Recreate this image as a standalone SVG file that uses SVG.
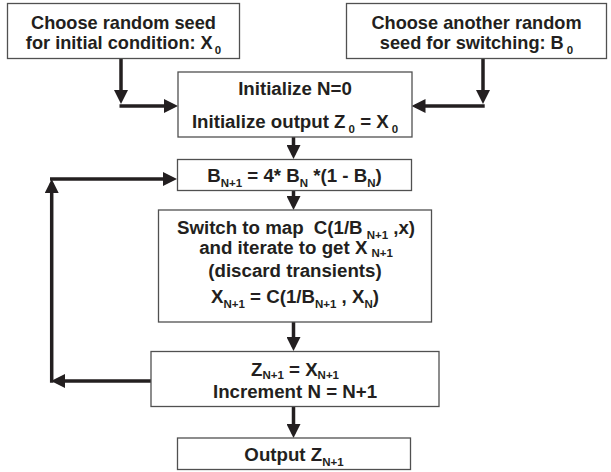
<svg xmlns="http://www.w3.org/2000/svg" width="611" height="472" viewBox="0 0 611 472">
<defs>
<style>
.box{fill:#fff;stroke:#505050;stroke-width:1.3}
.t{font-family:"Liberation Sans",Arial,sans-serif;font-weight:bold;font-size:18.7px;fill:#231f20;text-anchor:middle}
.top{font-size:18.2px}
.s{font-size:11.5px}
.c{fill:none;stroke:#231f20;stroke-width:3.5}
</style>
<marker id="ah" markerUnits="userSpaceOnUse" markerWidth="14" markerHeight="14" viewBox="0 0 14 14" refX="10" refY="7" orient="auto">
<path d="M0,0 L14,7 L0,14 z" fill="#231f20"/>
</marker>
</defs>
<rect width="611" height="472" fill="#fff"/>
<g id="connectors">
<path class="c" d="M121,58.5 V100" marker-end="url(#ah)"/>
<path class="c" d="M119.5,106 H174" marker-end="url(#ah)"/>
<path class="c" d="M483,58.5 V100" marker-end="url(#ah)"/>
<path class="c" d="M484.7,106 H415.5" marker-end="url(#ah)"/>
<path class="c" d="M293.5,137 V155" marker-end="url(#ah)"/>
<path class="c" d="M293.5,191 V206" marker-end="url(#ah)"/>
<path class="c" d="M293.5,322 V347" marker-end="url(#ah)"/>
<path class="c" d="M293.5,406.5 V434" marker-end="url(#ah)"/>
<path class="c" d="M151,381 H55" marker-end="url(#ah)"/>
<path class="c" d="M51.7,382.7 V183" marker-end="url(#ah)"/>
<path class="c" d="M50,179 H173" marker-end="url(#ah)"/>
</g>
<g id="seedX">
<rect class="box" x="7.5" y="3.5" width="232" height="55"/>
<text class="t top" x="123.5" y="28.5">Choose random seed</text>
<text class="t top" x="123.5" y="48.5">for initial condition: X<tspan class="s" dx="2" dy="5">0</tspan></text>
</g>
<g id="seedB">
<rect class="box" x="346.5" y="3.5" width="260" height="55"/>
<text class="t top" x="476.5" y="28.5">Choose another random</text>
<text class="t top" x="476.5" y="48.5">seed for switching: B<tspan class="s" dx="3" dy="5">0</tspan></text>
</g>
<g id="init">
<rect class="box" x="178" y="72" width="234" height="65"/>
<text class="t" x="295" y="95">Initialize N=0</text>
<text class="t" x="295" y="128">Initialize output Z<tspan class="s" dx="3" dy="5">0</tspan><tspan dy="-5"> = X</tspan><tspan class="s" dx="3" dy="5">0</tspan></text>
</g>
<g id="updateB">
<rect class="box" x="177.5" y="159.5" width="234" height="31"/>
<text class="t" x="294.5" y="181.5">B<tspan class="s" dy="5">N+1</tspan><tspan dy="-5"> = 4* B</tspan><tspan class="s" dy="5">N</tspan><tspan dy="-5"> *(1 - B</tspan><tspan class="s" dy="5">N</tspan><tspan dy="-5">)</tspan></text>
</g>
<g id="switch">
<rect class="box" x="158.5" y="210" width="273" height="112"/>
<text class="t" x="296" y="233.5">Switch to map <tspan dx="5">C(1/B</tspan><tspan class="s" dx="4" dy="5">N+1</tspan><tspan dy="-5"> ,x)</tspan></text>
<text class="t" x="296" y="254">and iterate to get X<tspan class="s" dx="4" dy="2.5">N+1</tspan></text>
<text class="t" x="295" y="276.5">(discard transients)</text>
<text class="t" x="295" y="303">X<tspan class="s" dy="5">N+1</tspan><tspan dy="-5"> = C(1/B</tspan><tspan class="s" dy="5">N+1</tspan><tspan dy="-5"> , X</tspan><tspan class="s" dy="5">N</tspan><tspan dy="-5">)</tspan></text>
</g>
<g id="updateZ">
<rect class="box" x="151" y="351.5" width="288" height="55"/>
<text class="t" x="295" y="376">Z<tspan class="s" dy="3">N+1</tspan><tspan dy="-3"> = X</tspan><tspan class="s" dy="3">N+1</tspan></text>
<text class="t" x="295" y="397.5">Increment N = N+1</text>
</g>
<g id="output">
<rect class="box" x="177.5" y="438" width="233" height="31.5"/>
<text class="t" x="294" y="461">Output Z<tspan class="s" dy="5">N+1</tspan></text>
</g>
</svg>
